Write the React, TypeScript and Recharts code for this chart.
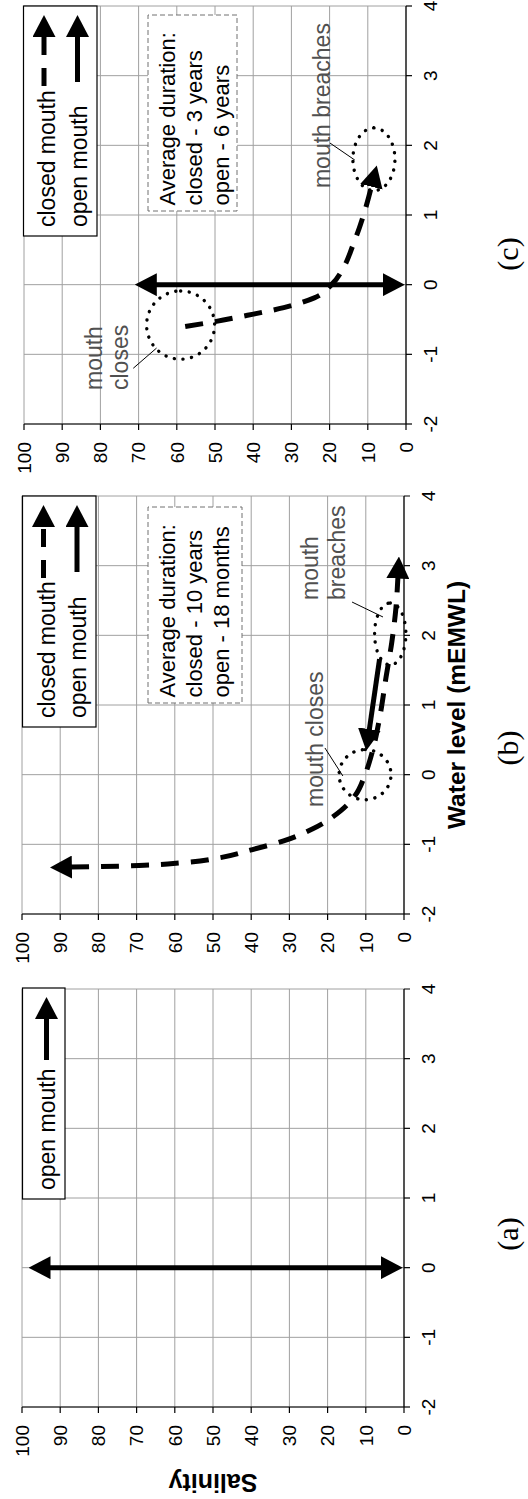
import React from 'react';
import {
  ComposedChart,
  XAxis,
  YAxis,
  CartesianGrid,
  Line,
  ReferenceDot,
  ReferenceLine,
} from 'recharts';

// ---- axis ticks -----------------------------------------------------------
const waterLevelTicks = [-2, -1, 0, 1, 2, 3, 4];
const salinityTicks = [0, 10, 20, 30, 40, 50, 60, 70, 80, 90, 100];

type Pt = { wl: number; sal: number };

// ---- trajectories (water level mEMWL, salinity); each path runs between the
// bases of its arrowheads, the heads are added as SVG markers ---------------
const openMouthA: Pt[] = [
  { wl: 0, sal: 5.8 },
  { wl: 0, sal: 92.8 },
];

const closedMouthB: Pt[] = [
  { wl: -1.327, sal: 87.2 },
  { wl: -1.32, sal: 80 },
  { wl: -1.3, sal: 68 },
  { wl: -1.265, sal: 58 },
  { wl: -1.195, sal: 48.5 },
  { wl: -1.08, sal: 40 },
  { wl: -0.95, sal: 31.5 },
  { wl: -0.78, sal: 24 },
  { wl: -0.52, sal: 16.6 },
  { wl: -0.3, sal: 12.8 },
  { wl: 0, sal: 10.2 },
  { wl: 0.35, sal: 8.2 },
  { wl: 0.87, sal: 6.2 },
  { wl: 1.4, sal: 4.7 },
  { wl: 1.9, sal: 3.2 },
  { wl: 2.4, sal: 2.1 },
  { wl: 2.83, sal: 1.6 },
];
const openMouthB: Pt[] = [
  { wl: 1.66, sal: 6.4 },
  { wl: 0.64, sal: 9.1 },
];

const closedMouthC: Pt[] = [
  { wl: -0.6, sal: 57.8 },
  { wl: -0.53, sal: 50 },
  { wl: -0.44, sal: 41.5 },
  { wl: -0.33, sal: 32 },
  { wl: -0.19, sal: 24 },
  { wl: 0, sal: 19.5 },
  { wl: 0.25, sal: 16.3 },
  { wl: 0.55, sal: 14 },
  { wl: 0.85, sal: 12 },
  { wl: 1.15, sal: 10.3 },
  { wl: 1.42, sal: 9.0 },
];
const openMouthC: Pt[] = [
  { wl: 0, sal: 5.8 },
  { wl: 0, sal: 65.5 },
];

// ---- circled events: centre and half extent in axis units -------------------
type Ring = { wl: number; sal: number; halfWl: number; halfSal: number };
const ringsB: Ring[] = [
  { wl: 0, sal: 10.2, halfWl: 0.36, halfSal: 6.8 },
  { wl: 2.02, sal: 3.6, halfWl: 0.445, halfSal: 4.1 },
];
const ringsC: Ring[] = [
  { wl: -0.58, sal: 59, halfWl: 0.49, halfSal: 8.9 },
  { wl: 1.8, sal: 8.4, halfWl: 0.45, halfSal: 5.5 },
];

// ---- notes: anchored at the left end of the first baseline ------------------
type Note = { wl: number; sal: number; lines: string[] };
const notesB: Note[] = [
  { wl: -0.464, sal: 21.2, lines: ['mouth closes'] },
  { wl: 2.507, sal: 22.4, lines: ['mouth', 'breaches'] },
];
const notesC: Note[] = [
  { wl: -1.512, sal: 79.7, lines: ['mouth', 'closes'] },
  { wl: 1.387, sal: 20.0, lines: ['mouth breaches'] },
];

type Leader = [Pt, Pt];
const leadersB: Leader[] = [
  [{ wl: 0.383, sal: 20.7 }, { wl: -0.019, sal: 16.0 }],
  [{ wl: 2.478, sal: 13.6 }, { wl: 2.263, sal: 5.5 }],
];
const leadersC: Leader[] = [
  [{ wl: -1.2, sal: 71.4 }, { wl: -0.91, sal: 65.3 }],
  [{ wl: 2.033, sal: 19.9 }, { wl: 1.789, sal: 13.4 }],
];

// ---- text blocks --------------------------------------------------------------
const durationB = ['Average duration:', 'closed - 10 years', 'open - 18 months'];
const durationC = ['Average duration:', 'closed - 3 years', 'open - 6 years'];
const legendA = [{ name: 'open mouth', dashed: false }];
const legendBC = [
  { name: 'closed mouth', dashed: true },
  { name: 'open mouth', dashed: false },
];
const captions = ['(a)', '(b)', '(c)'];

// ---- layout (landscape frame, rotated onto the page) ------------------------
const FRAME_W = 1499;
const FRAME_H = 528;
const Y_AXIS_W = 92;
const X_AXIS_H = 70;
const RIGHT_PAD = 6;
const PLOT_W = 418;
const PLOT_H = 382;
const PX_PER_WL = PLOT_W / 6;
const PX_PER_SAL = PLOT_H / 100;
const SANS = '"Liberation Sans", Arial, Helvetica, sans-serif';
const SERIF = '"Liberation Serif", "Times New Roman", serif';
const DASH = '18 12';
const HEAD = 'url(#arrowHead)';

function trajectory(key: string, data: Pt[], dashed: boolean, twoHeads: boolean, curved: boolean) {
  return (
    <Line
      key={key}
      data={data}
      dataKey="sal"
      type={curved ? 'monotone' : 'linear'}
      stroke="#000"
      strokeWidth={5}
      strokeDasharray={dashed ? DASH : undefined}
      dot={false}
      activeDot={false}
      legendType="none"
      isAnimationActive={false}
      markerStart={twoHeads ? HEAD : undefined}
      markerEnd={HEAD}
    />
  );
}

function rings(prefix: string, list: Ring[]) {
  return list.map((r, i) => (
    <ReferenceDot
      key={`${prefix}-ring-${i}`}
      x={r.wl}
      y={r.sal}
      r={1}
      shape={(p: any) => (
        <ellipse
          cx={p.cx}
          cy={p.cy}
          rx={r.halfWl * PX_PER_WL}
          ry={r.halfSal * PX_PER_SAL}
          fill="none"
          stroke="#000"
          strokeWidth={3.4}
          strokeDasharray="0.1 8.6"
          strokeLinecap="round"
        />
      )}
    />
  ));
}

function notes(prefix: string, list: Note[]) {
  return list.map((n, i) => (
    <ReferenceDot
      key={`${prefix}-note-${i}`}
      x={n.wl}
      y={n.sal}
      r={1}
      shape={(p: any) => (
        <text x={p.cx} y={p.cy} fill="#505050" fontSize={23} fontFamily={SANS}>
          {n.lines.map((line, k) => (
            <tspan key={k} x={p.cx} dy={k === 0 ? 0 : 26.5}>
              {line}
            </tspan>
          ))}
        </text>
      )}
    />
  ));
}

function leaders(prefix: string, list: Leader[]) {
  return list.map((seg, i) => (
    <ReferenceLine
      key={`${prefix}-lead-${i}`}
      segment={[
        { x: seg[0].wl, y: seg[0].sal },
        { x: seg[1].wl, y: seg[1].sal },
      ]}
      stroke="#000"
      strokeWidth={1}
    />
  ));
}

function panel(
  key: string,
  plotLeft: number,
  plotTop: number,
  content: React.ReactNode[],
  xTitle?: string,
  yTitle?: string,
) {
  return (
    <div key={key} style={{ position: 'absolute', left: plotLeft - Y_AXIS_W, top: 0 }}>
      <ComposedChart
        width={Y_AXIS_W + PLOT_W + RIGHT_PAD}
        height={FRAME_H}
        margin={{ top: plotTop, right: RIGHT_PAD, left: 0, bottom: FRAME_H - plotTop - PLOT_H - X_AXIS_H }}
      >
        <CartesianGrid stroke="#a0a0a0" strokeWidth={1} />
        <XAxis
          type="number"
          dataKey="wl"
          domain={[-2, 4]}
          ticks={waterLevelTicks}
          interval={0}
          height={X_AXIS_H}
          tickSize={6}
          tickMargin={12}
          axisLine={{ stroke: '#000', strokeWidth: 1.2 }}
          tickLine={{ stroke: '#000', strokeWidth: 1.2 }}
          tick={{ fill: '#000', fontSize: 19, fontFamily: SANS }}
          label={
            xTitle
              ? {
                  value: xTitle,
                  position: 'insideBottom',
                  offset: 9,
                  style: { fontWeight: 'bold', fontSize: 24.5, fill: '#000', fontFamily: SANS },
                }
              : undefined
          }
        />
        <YAxis
          type="number"
          domain={[0, 100]}
          ticks={salinityTicks}
          interval={0}
          width={Y_AXIS_W}
          tickSize={6}
          tickMargin={12}
          axisLine={{ stroke: '#000', strokeWidth: 1.2 }}
          tickLine={{ stroke: '#000', strokeWidth: 1.2 }}
          tick={{ fill: '#000', fontSize: 19, fontFamily: SANS }}
          label={
            yTitle
              ? {
                  value: yTitle,
                  angle: -90,
                  position: 'insideLeft',
                  offset: 16,
                  style: { textAnchor: 'middle', fontWeight: 'bold', fontSize: 25, fill: '#000', fontFamily: SANS },
                }
              : undefined
          }
        />
        {content}
      </ComposedChart>
    </div>
  );
}

function LegendBox({
  x, y, w, h, rows, textDy, symDy, dashedFrom, solidFrom,
}: {
  x: number; y: number; w: number; h: number;
  rows: { name: string; dashed: boolean }[];
  textDy: number[]; symDy: number[]; dashedFrom: number; solidFrom: number;
}) {
  const lineEnd = x + w - 30;
  return (
    <g>
      <rect x={x} y={y} width={w} height={h} fill="#fff" stroke="#000" strokeWidth={1.2} />
      {rows.map((r, i) => (
        <g key={r.name}>
          <text x={x + 9} y={y + textDy[i]} fontSize={23} fill="#000">
            {r.name}
          </text>
          <line
            x1={x + (r.dashed ? dashedFrom : solidFrom)}
            x2={lineEnd}
            y1={y + symDy[i]}
            y2={y + symDy[i]}
            stroke="#000"
            strokeWidth={5}
            strokeDasharray={r.dashed ? '18 13' : undefined}
            markerEnd={HEAD}
          />
        </g>
      ))}
    </g>
  );
}

function DurationBox({ x, y, w, h, lines }: { x: number; y: number; w: number; h: number; lines: string[] }) {
  return (
    <g>
      <rect x={x} y={y} width={w} height={h} fill="#fff" stroke="#707070" strokeWidth={1} strokeDasharray="5 3" />
      {lines.map((l, i) => (
        <text key={i} x={x + 5.5} y={y + 26.5 + i * 27} fontSize={22} fill="#000">
          {l}
        </text>
      ))}
    </g>
  );
}

export default function App() {
  const panelA = [trajectory('a-open', openMouthA, false, true, false)];
  const panelB = [
    ...rings('b', ringsB),
    ...leaders('b', leadersB),
    ...notes('b', notesB),
    trajectory('b-closed', closedMouthB, true, true, true),
    trajectory('b-open', openMouthB, false, false, false),
  ];
  const panelC = [
    ...rings('c', ringsC),
    ...leaders('c', leadersC),
    ...notes('c', notesC),
    trajectory('c-closed', closedMouthC, true, false, true),
    trajectory('c-open', openMouthC, false, true, false),
  ];

  return (
    <div
      style={{
        position: 'absolute',
        left: 0,
        top: 0,
        width: FRAME_H,
        height: FRAME_W,
        overflow: 'hidden',
        background: '#fff',
      }}
    >
      <svg width={0} height={0} style={{ position: 'absolute' }}>
        <defs>
          <marker
            id="arrowHead"
            viewBox="0 0 22 23"
            refX={1}
            refY={11.5}
            markerWidth={22}
            markerHeight={23}
            markerUnits="userSpaceOnUse"
            orient="auto-start-reverse"
          >
            <path d="M0 0 L22 11.5 L0 23 Z" fill="#000" />
          </marker>
        </defs>
      </svg>
      <div
        style={{
          position: 'absolute',
          left: 0,
          top: 0,
          width: FRAME_W,
          height: FRAME_H,
          transformOrigin: '0 0',
          transform: `translate(0px, ${FRAME_W}px) rotate(-90deg)`,
          fontFamily: SANS,
          background: '#fff',
        }}
      >
        {panel('a', 92, 22, panelA, undefined, 'Salinity')}
        {panel('b', 585, 22, panelB, 'Water level (mEMWL)')}
        {panel('c', 1075, 24, panelC)}
        <svg
          width={FRAME_W}
          height={FRAME_H}
          style={{ position: 'absolute', left: 0, top: 0, pointerEvents: 'none', fontFamily: SANS }}
        >
          <LegendBox x={300} y={22.5} w={211} h={42.5} rows={legendA} textDy={[32]} symDy={[24]} dashedFrom={139} solidFrom={139} />
          <LegendBox x={772} y={22.5} w={231} h={73.5} rows={legendBC} textDy={[32, 63]} symDy={[21, 54.5]} dashedFrom={149} solidFrom={155} />
          <LegendBox x={1263} y={23.5} w={230} h={73.5} rows={legendBC} textDy={[31.5, 63]} symDy={[20.5, 54]} dashedFrom={150} solidFrom={154} />
          <DurationBox x={796} y={148} w={196} h={94} lines={durationB} />
          <DurationBox x={1288} y={148} w={196} h={89} lines={durationC} />
          {captions.map((c, i) => (
            <text key={c} x={[265, 751, 1245][i]} y={518} textAnchor="middle" fontSize={30} fontFamily={SERIF} fill="#000">
              {c}
            </text>
          ))}
        </svg>
      </div>
    </div>
  );
}
